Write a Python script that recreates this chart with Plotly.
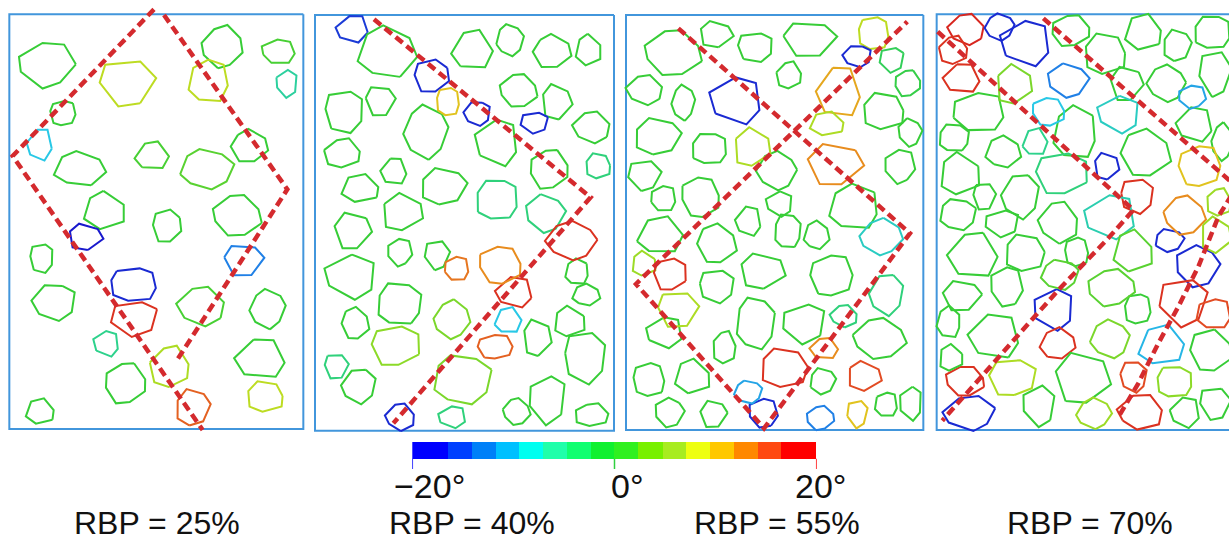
import math
import plotly.graph_objects as go

FIG_W, FIG_H = 1229, 542

# ---------------------------------------------------------------------------
# Data
# ---------------------------------------------------------------------------
RBP_LABELS = ["RBP = 25%", "RBP = 40%", "RBP = 55%", "RBP = 70%"]

# Colour legend: particle rotation bins (degrees) and their fill colours
BIN_EDGES = [-20, -16.4, -14.1, -11.7, -9.4, -7.0, -4.7, -2.3, 0,
             2.4, 4.8, 7.1, 9.5, 11.8, 14.2, 16.5, 20]
BIN_COLORS = ["#0000ff", "#0040ff", "#0080f8", "#00c0ff", "#00fff0", "#20ffaa",
              "#10ff70", "#10f030", "#30f020", "#78f000", "#a8ec20", "#eeff10",
              "#ffc800", "#ff8800", "#ff4810", "#ff0000"]
LEGEND_TICKS = [-20, 0, 20]
LEGEND_TICK_TEXT = ["\u221220\u00b0", "0\u00b0", "20\u00b0"]

# Specimen boundary of each panel: (left, right, top, bottom), y downward
FRAMES = [(28, 910, 43, 1287), (15, 912, 45, 1292),
          (18, 910, 45, 1290), (35, 960, 43, 1290)]

# Particles per panel: (centre x, centre y, width, height, rotation in degrees)
GRAINS_25 = [
    (140, 193, 170, 137, 0), (381, 248, 173, 145, 8), (667, 140, 123, 125, 0),
    (836, 155, 103, 75, 1), (860, 250, 65, 85, -6), (626, 243, 127, 130, 8),
    (189, 339, 78, 78, 0), (120, 433, 78, 97, -10), (239, 507, 152, 105, 0),
    (456, 468, 103, 87, 1), (621, 507, 157, 121, 2), (748, 439, 113, 98, 0),
    (313, 632, 130, 115, 0), (501, 677, 87, 105, 0), (712, 647, 145, 125, 0),
    (256, 711, 102, 83, -20), (125, 774, 74, 88, 0), (730, 780, 120, 100, -14),
    (401, 854, 147, 102, -19), (163, 906, 130, 113, 0), (404, 954, 148, 108, 18),
    (605, 919, 144, 118, 1), (803, 927, 107, 115, 0), (320, 1031, 80, 77, -5),
    (509, 1101, 118, 127, 7), (782, 1076, 155, 123, 0), (376, 1150, 123, 124, 0),
    (795, 1190, 114, 94, 8), (121, 1235, 87, 80, 0), (578, 1223, 107, 110, 15),
]

GRAINS_40 = [
    (128, 86, 100, 83, -18), (231, 157, 173, 159, 0), (487, 151, 125, 122, 0),
    (600, 120, 80, 96, 0), (726, 155, 117, 100, 0), (835, 150, 80, 95, 0),
    (365, 227, 106, 105, -19), (626, 272, 112, 100, 0), (740, 306, 90, 112, 0),
    (103, 334, 123, 128, 0), (210, 302, 90, 95, 0), (414, 305, 72, 86, 11),
    (502, 340, 79, 75, -19), (674, 367, 88, 65, -19), (846, 382, 113, 95, 0),
    (348, 396, 133, 157, 0), (562, 428, 135, 140, 0), (97, 460, 109, 90, 0),
    (252, 514, 80, 82, 0), (717, 508, 115, 120, 0), (864, 498, 78, 77, -4),
    (152, 566, 115, 88, 0), (400, 560, 144, 110, 0), (561, 599, 127, 128, -4),
    (276, 638, 128, 113, 0), (706, 640, 117, 115, -4), (128, 692, 113, 115, 0),
    (784, 722, 148, 115, 18), (270, 756, 76, 83, 0), (381, 765, 78, 90, 0),
    (440, 806, 74, 77, 14), (570, 795, 130, 114, 13), (122, 829, 155, 138, 0),
    (801, 816, 73, 77, 0), (614, 877, 112, 95, 18), (268, 911, 140, 127, 0),
    (829, 885, 82, 66, 0), (594, 962, 82, 81, -10), (135, 970, 85, 96, 0),
    (426, 958, 108, 113, 4), (778, 965, 100, 90, 0), (257, 1037, 149, 125, 5),
    (681, 1014, 88, 112, 0), (556, 1040, 107, 75, 15), (825, 1071, 130, 158, 0),
    (78, 1098, 73, 80, -4), (147, 1157, 105, 105, 0), (458, 1138, 173, 153, 4),
    (713, 1197, 113, 150, 0), (271, 1251, 87, 82, -19), (427, 1251, 85, 67, -4),
    (620, 1235, 80, 80, 0), (845, 1245, 104, 70, 0),
]

GRAINS_55 = [
    (160, 159, 170, 138, 0), (288, 103, 100, 83, 0), (406, 141, 113, 88, 0),
    (567, 117, 161, 110, 0), (761, 100, 97, 100, 8), (712, 168, 85, 67, -19),
    (816, 178, 77, 77, -2), (75, 270, 110, 90, 0), (190, 308, 70, 103, 0),
    (350, 302, 164, 141, -19), (507, 226, 75, 83, 0), (657, 276, 135, 157, 12),
    (863, 250, 77, 80, -1), (790, 334, 130, 112, 0), (622, 372, 105, 75, 7),
    (112, 410, 145, 110, 0), (268, 446, 107, 98, 0), (395, 443, 114, 117, 7),
    (870, 397, 70, 85, 0), (645, 493, 170, 130, 13), (470, 512, 116, 115, 0),
    (840, 498, 94, 103, 0), (73, 526, 103, 93, 0), (130, 596, 76, 82, 0),
    (241, 591, 117, 122, 0), (478, 611, 80, 78, 0), (702, 622, 155, 135, 0),
    (386, 664, 78, 92, 0), (503, 693, 83, 103, 0), (590, 706, 76, 87, 0),
    (120, 707, 140, 115, 0), (289, 731, 122, 118, 0), (784, 710, 128, 106, -8),
    (71, 791, 77, 73, 6), (150, 822, 100, 101, 18), (426, 814, 142, 108, 0),
    (635, 826, 130, 128, 0), (290, 858, 110, 100, 0), (172, 927, 125, 115, 7),
    (800, 882, 104, 125, -4), (407, 969, 115, 162, 0), (553, 969, 133, 122, 0),
    (672, 948, 81, 67, -4), (134, 997, 112, 95, 0), (779, 1016, 155, 122, 0),
    (313, 1043, 70, 100, 0), (613, 1045, 87, 65, 13), (493, 1104, 143, 125, 18),
    (87, 1139, 99, 102, 0), (218, 1131, 107, 107, 0), (608, 1143, 80, 77, 0),
    (732, 1128, 105, 90, 16), (385, 1176, 85, 67, -12), (148, 1237, 87, 90, 0),
    (281, 1242, 82, 85, 0), (431, 1239, 92, 88, -19), (601, 1254, 83, 72, -14),
    (712, 1241, 65, 83, 11), (799, 1214, 68, 78, 0), (873, 1209, 70, 102, 0),
]

GRAINS_70 = [
    (125, 88, 110, 93, 19), (224, 81, 88, 78, -19), (304, 130, 158, 136, -19),
    (85, 151, 86, 87, 18), (111, 235, 113, 90, 18), (437, 92, 115, 95, 0),
    (540, 162, 130, 125, 0), (656, 98, 112, 113, 0), (756, 137, 88, 95, 0),
    (862, 97, 110, 105, 0), (266, 255, 112, 120, 4), (429, 241, 122, 102, -14),
    (605, 251, 100, 107, 0), (724, 250, 112, 110, 0), (802, 290, 85, 70, -12),
    (870, 220, 100, 140, 0), (161, 337, 158, 125, 0), (370, 335, 100, 85, -10),
    (581, 342, 127, 115, -8), (450, 399, 135, 158, 0), (810, 374, 110, 108, 0),
    (87, 413, 95, 83, 0), (235, 456, 105, 97, 0), (330, 427, 76, 85, -5),
    (660, 459, 155, 142, 0), (892, 425, 64, 110, 0), (104, 522, 128, 125, 0),
    (410, 520, 160, 130, -4), (544, 499, 78, 82, -19), (824, 498, 128, 127, 11),
    (636, 587, 103, 105, 18), (177, 588, 69, 87, 0), (287, 587, 115, 135, 0),
    (99, 643, 108, 97, 0), (232, 669, 105, 82, 0), (401, 667, 118, 125, 0),
    (556, 650, 158, 136, -7), (779, 646, 122, 117, 13), (882, 607, 76, 85, 6),
    (145, 765, 154, 140, 0), (300, 759, 120, 118, 0), (455, 756, 74, 88, 0),
    (625, 755, 120, 130, 2), (733, 721, 90, 67, -19), (872, 705, 94, 110, 6),
    (405, 824, 114, 88, 2), (817, 798, 130, 127, -19), (111, 887, 118, 95, 0),
    (246, 860, 103, 120, 0), (559, 863, 142, 110, 2), (775, 906, 154, 143, 18),
    (867, 942, 104, 95, 16), (387, 927, 125, 125, -19), (638, 927, 80, 95, 0),
    (71, 967, 73, 95, 0), (210, 1010, 156, 140, 0), (398, 1032, 107, 95, 18),
    (555, 1017, 114, 115, 4), (709, 1037, 138, 125, -11), (857, 1052, 130, 125, 0),
    (78, 1074, 73, 82, 0), (120, 1143, 116, 90, 18), (262, 1132, 145, 115, 7),
    (471, 1136, 173, 157, 0), (625, 1129, 80, 98, 16), (748, 1145, 113, 94, 5),
    (869, 1209, 94, 102, 0), (133, 1239, 157, 102, -19), (342, 1217, 100, 125, 0),
    (507, 1240, 105, 90, 6), (647, 1236, 135, 108, 18), (780, 1237, 90, 95, 0),
]

# Shear band traces (dashed polylines) per panel, specimen coordinates
BANDS_25 = [[(462, 28), (38, 468), (608, 1290)],
            [(492, 45), (862, 568), (530, 1082)]]
BANDS_40 = [[(192, 58), (842, 592), (250, 1270)]]
BANDS_55 = [[(175, 85), (870, 700), (432, 1285), (48, 852), (862, 65)]]
BANDS_70 = [[(38, 95), (625, 630), (545, 720), (400, 870), (240, 1050),
             (110, 1200), (52, 1262)],
            [(355, 55), (935, 560), (880, 650), (820, 800), (760, 920),
             (700, 1030), (640, 1150), (578, 1255)]]

PANELS = [
    dict(grains=GRAINS_25, bands=BANDS_25, frame=FRAMES[0], label=RBP_LABELS[0]),
    dict(grains=GRAINS_40, bands=BANDS_40, frame=FRAMES[1], label=RBP_LABELS[1]),
    dict(grains=GRAINS_55, bands=BANDS_55, frame=FRAMES[2], label=RBP_LABELS[2]),
    dict(grains=GRAINS_70, bands=BANDS_70, frame=FRAMES[3], label=RBP_LABELS[3]),
]

# ---------------------------------------------------------------------------
# Styling / layout helpers
# ---------------------------------------------------------------------------
FONT = "Liberation Sans, Arial, sans-serif"
FRAME_COLOR = "#4296dc"
BAND_COLOR = "#d42a2e"

# outline colour along the rotation scale
LINE_STOPS = [(-20, (25, 25, 205)), (-15, (30, 110, 230)), (-10, (40, 200, 230)),
              (-5, (45, 210, 140)), (0, (55, 205, 55)), (5, (140, 218, 40)),
              (10, (222, 222, 30)), (13, (232, 140, 30)), (16, (226, 75, 35)),
              (20, (212, 25, 30))]


def outline_color(rot):
    rot = max(-20, min(20, rot))
    for (a, ca), (b, cb) in zip(LINE_STOPS[:-1], LINE_STOPS[1:]):
        if a <= rot <= b:
            t = (rot - a) / (b - a)
            c = [round(ca[i] + t * (cb[i] - ca[i])) for i in range(3)]
            return f"rgb({c[0]},{c[1]},{c[2]})"
    return "rgb(55,205,55)"


SIDES = [7, 6, 8, 7, 6, 7, 8, 6]
RADIAL = [1.0, 0.9, 1.04, 0.94, 1.0, 0.92, 1.03, 0.96]
JITTER = [0.0, 0.15, -0.1, 0.12, -0.14, 0.08, -0.06, 0.1]


def grain_outline(i, cx, cy, w, h):
    """Closed polygon outline of a particle with the given bounding size."""
    n = SIDES[i % len(SIDES)]
    t0 = math.radians((i * 53) % 360)
    xs, ys = [], []
    for k in range(n + 1):
        kk = k % n
        a = t0 + 2 * math.pi * (kk + JITTER[(i + kk) % 8]) / n
        r = RADIAL[(i * 3 + kk) % 8] * 1.03
        xs.append(cx + 0.5 * w * r * math.cos(a))
        ys.append(cy + 0.5 * h * r * math.sin(a))
    return xs, ys


# pixel windows of the four panels: (left px, right px, x-range end)
PANEL_WIN = [(0, 310, 930), (310, 620, 930), (620, 925, 915), (925, 1229, 912)]
PANEL_TOP_PX, PANEL_BOT_PX, PANEL_YSPAN = 0, 440, 1320
CAPTION_X_PX = [157, 472, 777, 1090]

fig = go.Figure()
layout = dict(
    width=FIG_W, height=FIG_H, margin=dict(l=0, r=0, t=0, b=0),
    paper_bgcolor="white", plot_bgcolor="white", showlegend=False,
    hovermode=False, font=dict(family=FONT, color="#111111"),
)
annotations = []

for p, (panel, (px0, px1, xr)) in enumerate(zip(PANELS, PANEL_WIN)):
    k = "" if p == 0 else str(p + 1)
    xa, ya = "x" + k, "y" + k
    layout["xaxis" + k] = dict(domain=[px0 / FIG_W, px1 / FIG_W], range=[0, xr],
                               visible=False, fixedrange=True, anchor=ya)
    layout["yaxis" + k] = dict(domain=[1 - PANEL_BOT_PX / FIG_H, 1 - PANEL_TOP_PX / FIG_H],
                               range=[PANEL_YSPAN, 0], visible=False,
                               fixedrange=True, anchor=xa)

    # specimen boundary
    left, right, top, bottom = panel["frame"]
    fx = [right, left, left, right]
    fy = [top, top, bottom, bottom]
    if p < 3:
        fx.append(right)
        fy.append(top)
    fig.add_trace(go.Scatter(x=fx, y=fy, mode="lines", xaxis=xa, yaxis=ya,
                             line=dict(color=FRAME_COLOR, width=2)))

    # particles, grouped by rotation so each colour is one trace
    groups = {}
    for i, (cx, cy, w, h, rot) in enumerate(panel["grains"]):
        xs, ys = grain_outline(i + 7 * p, cx, cy, w, h)
        gx, gy = groups.setdefault(rot, ([], []))
        gx.extend(xs + [None])
        gy.extend(ys + [None])
    for rot, (gx, gy) in groups.items():
        fig.add_trace(go.Scatter(x=gx, y=gy, mode="lines", xaxis=xa, yaxis=ya,
                                 line=dict(color=outline_color(rot), width=2)))

    # shear bands
    for band in panel["bands"]:
        bx, by = zip(*band)
        fig.add_trace(go.Scatter(x=list(bx), y=list(by), mode="lines",
                                 xaxis=xa, yaxis=ya,
                                 line=dict(color=BAND_COLOR, width=4.5,
                                           dash="9px,5px")))

    # panel caption under the specimen
    annotations.append(dict(text=panel["label"], xref="paper", yref="paper",
                            x=CAPTION_X_PX[p] / FIG_W, y=1 - 523 / FIG_H,
                            xanchor="center", yanchor="middle", showarrow=False,
                            font=dict(size=32, family=FONT, color="#111111")))

# ---------------------------------------------------------------------------
# Rotation colour legend
# ---------------------------------------------------------------------------
CB_X0, CB_X1, CB_TOP, CB_BOT = 412.3, 816.7, 442, 469
layout["xaxis5"] = dict(domain=[CB_X0 / FIG_W, CB_X1 / FIG_W], range=[-20, 20],
                        visible=False, fixedrange=True, anchor="y5")
layout["yaxis5"] = dict(domain=[1 - CB_BOT / FIG_H, 1 - CB_TOP / FIG_H],
                        range=[-1.12, 0.5], visible=False, fixedrange=True,
                        anchor="x5")

lefts = BIN_EDGES[:-1]
widths = [b - a for a, b in zip(BIN_EDGES[:-1], BIN_EDGES[1:])]
fig.add_trace(go.Bar(x=widths, y=[0] * len(widths), base=lefts, orientation="h",
                     width=1, marker=dict(color=BIN_COLORS, line=dict(width=0)),
                     xaxis="x5", yaxis="y5"))

tick_colors = [BIN_COLORS[0], "#30d040", BIN_COLORS[-1]]
label_shift = [17, 13, 4]
for v, txt, col, sh in zip(LEGEND_TICKS, LEGEND_TICK_TEXT, tick_colors, label_shift):
    fig.add_trace(go.Scatter(x=[v, v], y=[-0.5, -1.12], mode="lines",
                             xaxis="x5", yaxis="y5",
                             line=dict(color=col, width=1.5)))
    annotations.append(dict(text=txt, xref="x5", yref="paper", x=v,
                            y=1 - 486 / FIG_H, xanchor="center", yanchor="middle",
                            xshift=sh, showarrow=False,
                            font=dict(size=34, family=FONT, color="#111111")))

layout["annotations"] = annotations
layout["bargap"] = 0
fig.update_layout(**layout)

fig.write_html("out.html")
